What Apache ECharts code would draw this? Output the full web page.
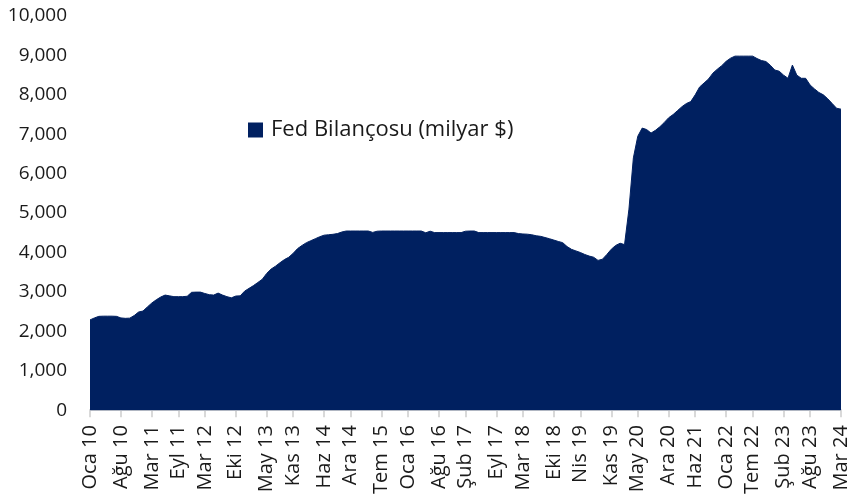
<!DOCTYPE html>
<html>
<head>
<meta charset="utf-8">
<script src="https://cdn.jsdelivr.net/npm/echarts@6/dist/echarts.min.js"></script>
<style>
  html, body { margin: 0; padding: 0; background: #fff; }
  #chart { width: 852px; height: 497px; }
</style>
</head>
<body>
<div id="chart"></div>
<script>
// ay adları (Türkçe kısaltmalar)
const monthNames = ["Oca", "Şub", "Mar", "Nis", "May", "Haz", "Tem", "Ağu", "Eyl", "Eki", "Kas", "Ara"];

// aylık kategoriler: Oca 10 .. Mar 24
const categories = [];
for (let i = 0; i < 171; i++) {
  const m = i % 12;
  const y = 10 + Math.floor(i / 12);
  categories.push(monthNames[m] + " " + y);
}

// eksende gösterilen etiketler
const tickLabels = [
  "Oca 10", "Ağu 10", "Mar 11", "Eyl 11", "Mar 12", "Eki 12", "May 13", "Kas 13",
  "Haz 14", "Ara 14", "Tem 15", "Oca 16", "Ağu 16", "Şub 17", "Eyl 17", "Mar 18",
  "Eki 18", "Nis 19", "Kas 19", "May 20", "Ara 20", "Haz 21", "Oca 22", "Tem 22",
  "Şub 23", "Ağu 23", "Mar 24"
];

// Fed bilançosu, milyar $
const fedBalance2010_2012 = [
  2290, 2340, 2380, 2385, 2385, 2385, 2380, 2340, 2330, 2335, 2400, 2490,
  2515, 2620, 2720, 2800, 2870, 2920, 2900, 2880, 2880, 2880, 2890, 2990,
  2995, 2995, 2960, 2930, 2920, 2970, 2920, 2880, 2850, 2895, 2900, 3020
];
const fedBalance2013_2015 = [
  3090, 3160, 3240, 3320, 3470, 3580, 3654, 3740, 3820, 3880, 3980, 4100,
  4180, 4250, 4300, 4350, 4400, 4440, 4450, 4462, 4480, 4520, 4545, 4545,
  4545, 4545, 4545, 4545, 4510, 4540, 4545, 4545, 4545, 4545, 4545, 4545
];
const fedBalance2016_2018 = [
  4545, 4545, 4545, 4545, 4500, 4540, 4505, 4505, 4505, 4505, 4505, 4505,
  4505, 4540, 4545, 4545, 4505, 4505, 4505, 4505, 4505, 4505, 4505, 4505,
  4505, 4480, 4470, 4465, 4450, 4425, 4410, 4380, 4350, 4315, 4280, 4250
];
const fedBalance2019_2021 = [
  4150, 4080, 4040, 4000, 3950, 3910, 3880, 3800, 3830, 3950, 4083, 4180,
  4235, 4200, 5100, 6400, 6950, 7157, 7120, 7030, 7100, 7190, 7300, 7420,
  7500, 7600, 7700, 7780, 7830, 8000, 8200, 8300, 8400, 8550, 8650, 8740
];
const fedBalance2022_2024 = [
  8850, 8930, 8982, 8982, 8982, 8982, 8982, 8920, 8870, 8845, 8750, 8630,
  8600, 8500, 8420, 8755, 8500, 8420, 8419, 8250, 8150, 8060, 8000, 7900,
  7780, 7660, 7636
];
const fedBalance = [].concat(
  fedBalance2010_2012, fedBalance2013_2015, fedBalance2016_2018,
  fedBalance2019_2021, fedBalance2022_2024
);

const navy = "#002060";
const fontFamily = "'Open Sans', 'Noto Sans', sans-serif";

const showTick = function (idx, val) {
  return tickLabels.indexOf(val) !== -1;
};

const chart = echarts.init(document.getElementById("chart"), null, { renderer: "canvas" });
chart.setOption({
  animation: false,
  grid: { left: 90, right: 11, top: 16, bottom: 85, containLabel: false },
  legend: {
    left: 243,
    top: 114,
    itemWidth: 15,
    itemHeight: 15,
    icon: "rect",
    textStyle: { fontFamily: fontFamily, fontSize: 22, color: "#1a1a1a", padding: [0, 0, 0, 3] },
    data: [{ name: "Fed Bilançosu (milyar $)", itemStyle: { color: navy } }]
  },
  xAxis: {
    type: "category",
    data: categories,
    boundaryGap: false,
    axisLine: { lineStyle: { color: "#d9d9d9", width: 2 } },
    axisTick: { interval: showTick, length: 7, lineStyle: { color: "#d9d9d9", width: 2 } },
    axisLabel: {
      interval: showTick,
      rotate: 90,
      margin: 15,
      fontFamily: fontFamily,
      fontSize: 20,
      color: "#1a1a1a"
    },
    splitLine: { show: false }
  },
  yAxis: {
    type: "value",
    min: 0,
    max: 10000,
    interval: 1000,
    axisLine: { show: false },
    axisTick: { show: false },
    splitLine: { show: false },
    axisLabel: {
      margin: 23,
      fontFamily: fontFamily,
      fontSize: 19,
      color: "#1a1a1a",
      formatter: function (v) { return v.toLocaleString("en-US"); }
    }
  },
  series: [
    {
      name: "Fed Bilançosu (milyar $)",
      type: "line",
      data: fedBalance,
      symbol: "none",
      lineStyle: { color: navy, width: 1 },
      itemStyle: { color: navy },
      areaStyle: { color: navy, opacity: 1 }
    }
  ]
});
</script>
</body>
</html>
